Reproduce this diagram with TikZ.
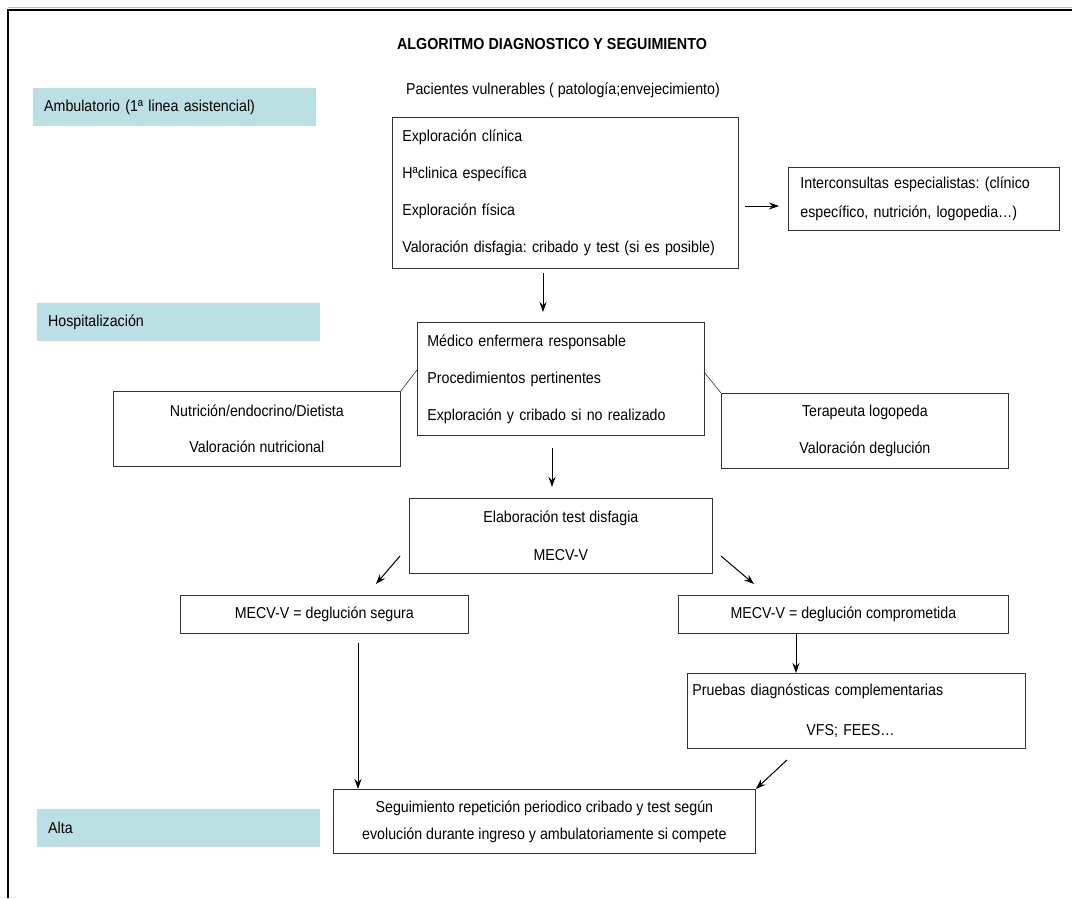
\documentclass[tikz,border=0pt]{standalone}
\usepackage{fontspec}
\setmainfont{Liberation Sans}[FakeStretch=0.9]
\usepackage{xcolor}
\definecolor{stagecolor}{RGB}{187,224,228}
\usetikzlibrary{arrows.meta}
\frenchspacing

\tikzset{
  lsep/.style={font=\fontsize{15.8}{#1}\selectfont},
  box/.style={draw=black!80, line width=0.8pt, anchor=north west, inner sep=0pt, lsep=19},
  stage/.style={fill=stagecolor, anchor=north west, minimum width=283, minimum height=38,
    inner xsep=11pt, inner ysep=0pt, text width=261, align=left, lsep=19},
  arr/.style={-{Stealth[length=10pt,width=7pt]}, line width=1pt, black},
  link/.style={line width=0.6pt, black!80},
}

\begin{document}
\begin{tikzpicture}[x=1pt,y=-1pt]
  \useasboundingbox (0,0) rectangle (1072,898);
  % frame
  \draw[black!25, line width=1pt] (8,7) -- (1072,7);
  \draw[line width=2pt] (1072,10) -| (8,898);

  \node[font=\fontsize{15.9}{19}\selectfont\bfseries] (title) at (552,44)
    {ALGORITMO DIAGNOSTICO Y SEGUIMIENTO};
  \node[lsep=19] (pac) at (563,90) {Pacientes vulnerables ( patología;envejecimiento)};

  % stages
  \node[stage] (amb) at (33,88) {Ambulatorio (1ª linea asistencial)};
  \node[stage] (hosp) at (37,303) {Hospitalización};
  \node[stage] (alta) at (37,809) {Alta};

  % boxes
  \node[box, lsep=37, minimum width=346, minimum height=151, text width=326,
    inner xsep=10pt, align=left] (explo) at (392,117)
    {Exploración clínica\\Hªclinica específica\\Exploración física\\
     Valoración disfagia: cribado y test (si es posible)};
  \node[box, lsep=29, minimum width=271, minimum height=63, text width=247,
    inner xsep=12pt, align=left] (inter) at (788,167)
    {Interconsultas especialistas: (clínico\\específico, nutrición, logopedia\dots)};
  \node[box, lsep=37, minimum width=287, minimum height=113, text width=267,
    inner xsep=10pt, align=left] (medico) at (417,322)
    {Médico enfermera responsable\\Procedimientos pertinentes\\
     Exploración y cribado si no realizado};
  \node[box, lsep=36, minimum width=287, minimum height=75, align=center] (nutri) at (113,391)
    {Nutrición/endocrino/Dietista\\Valoración nutricional};
  \node[box, lsep=37, minimum width=287, minimum height=75, align=center] (tera) at (721,393)
    {Terapeuta logopeda\\Valoración deglución};
  \node[box, lsep=38, minimum width=303, minimum height=75, align=center] (elab) at (409,498)
    {Elaboración test disfagia\\MECV-V};
  \node[box, minimum width=288, minimum height=38] (segura) at (180,595)
    {MECV-V = deglución segura};
  \node[box, minimum width=330, minimum height=38] (compro) at (678,595)
    {MECV-V = deglución comprometida};
  \node[box, lsep=40, minimum width=338, minimum height=75, text width=328,
    inner xsep=5pt, align=left] (pruebas) at (687,673)
    {Pruebas diagnósticas complementarias\\\hspace*{114pt}VFS; FEES\dots};
  \node[box, lsep=27, minimum width=422, minimum height=64, align=center] (segui) at (333,789)
    {Seguimiento repetición periodico cribado y test según\\
     evolución durante ingreso y ambulatoriamente si compete};

  % free ends of the arrows
  \coordinate (e1a) at (543,273);  \coordinate (e1b) at (543,312);
  \coordinate (e2a) at (745,206);  \coordinate (e2b) at (779,206);
  \coordinate (e3a) at (552,448);  \coordinate (e3b) at (552,487);
  \coordinate (e4a) at (400,556);  \coordinate (e4b) at (376,584);
  \coordinate (e5a) at (721,556);  \coordinate (e5b) at (754,584);
  \coordinate (e6a) at (358,643);
  \coordinate (e7a) at (787,760);
  \coordinate (m1) at (417,370);   \coordinate (m2) at (704,372);

  \path[arr]
    (e1a) edge (e1b)
    (e2a) edge (e2b)
    (e3a) edge (e3b)
    (e4a) edge (e4b)
    (e5a) edge (e5b)
    (compro.south -| 796,0) edge (pruebas.north -| 796,0)
    (e6a) edge (segui.north -| e6a)
    (e7a) edge (segui.north east)
    ;
  \draw[link] (nutri.north east) -- (m1);
  \draw[link] (m2) -- (tera.north west);
\end{tikzpicture}
\end{document}
